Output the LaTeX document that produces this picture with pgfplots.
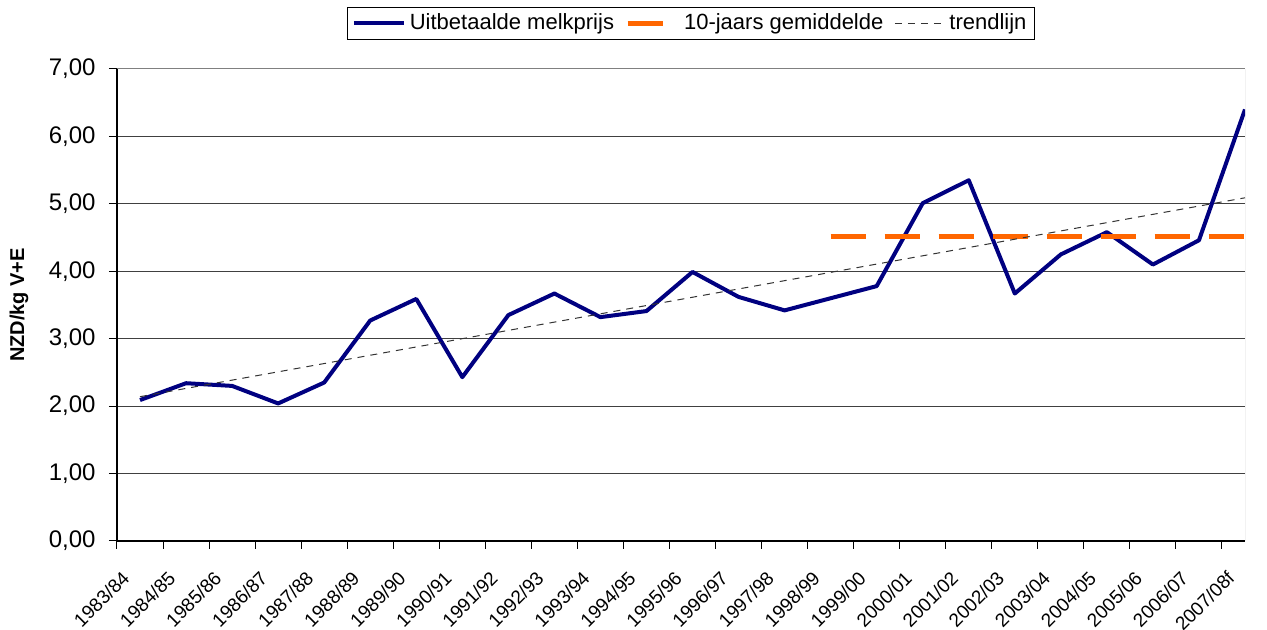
\documentclass[border=0pt]{standalone}
\usepackage{fontspec}
\setmainfont{Liberation Sans}
\usepackage{pgfplots}
\pgfplotsset{compat=1.18}
\usetikzlibrary{calc}
\definecolor{milk}{HTML}{000080}
\definecolor{avg}{HTML}{FF6600}
\begin{document}
\fontsize{12}{14.4}\selectfont
\begin{tikzpicture}
\begin{axis}[name=ax, scale only axis, width=564pt, height=236pt,
  xmin=-0.5, xmax=24, ymin=0, ymax=7,
  ytick={0,1,...,7},
  yticklabel style={/pgf/number format/fixed, /pgf/number format/fixed zerofill,
     /pgf/number format/precision=2, /pgf/number format/use comma,
     /pgf/number format/assume math mode=true, font=\fontsize{12}{14.4}\selectfont, xshift=-2.5pt},
  xtick={-0.5,0.5,1.5,2.5,3.5,4.5,5.5,6.5,7.5,8.5,9.5,10.5,11.5,12.5,13.5,14.5,15.5,16.5,17.5,18.5,19.5,20.5,21.5,22.5,23.5},
  xticklabels={1983/84,1984/85,1985/86,1986/87,1987/88,1988/89,1989/90,1990/91,1991/92,1992/93,1993/94,1994/95,1995/96,1996/97,1997/98,1998/99,1999/00,2000/01,2001/02,2002/03,2003/04,2004/05,2005/06,2006/07,2007/08f},
  xticklabel style={font=\fontsize{9.5}{11.4}\selectfont, xshift=4.5pt, yshift=-12.8pt, rotate=45, anchor=east, inner sep=0pt},
  tick align=outside, major tick length=4pt,
  tick style={black, line width=0.5pt},
  axis x line*=bottom, axis y line*=left,
  axis line style={black, line width=0.6pt, -},
  ymajorgrids, grid style={black!75, line width=0.5pt},
  ylabel={\textbf{NZD/kg V+E}},
  ylabel style={at={(axis description cs:-0.0869,0.5)}, anchor=center, rotate=0, font=\fontsize{10}{12}\selectfont},
  legend columns=3,
  legend style={at={(0.509,1.131)}, anchor=north, draw=black, line width=0.5pt,
     inner xsep=2pt, inner ysep=1pt, font=\fontsize{11}{13}\selectfont,
     nodes={inner xsep=2pt},
     /tikz/every even column/.append style={column sep=3.5pt}},
  legend image code/.code={\draw[#1] (0pt,0pt) -- (25pt,0pt);},
]
\addplot[milk, line width=2pt, line join=round] coordinates {
 (0,2.09) (1,2.34) (2,2.30) (3,2.04) (4,2.35) (5,3.27) (6,3.59) (7,2.43)
 (8,3.35) (9,3.67) (10,3.32) (11,3.41) (12,3.99) (13,3.62) (14,3.42)
 (15,3.60) (16,3.78) (17,5.01) (18,5.35) (19,3.67) (20,4.25) (21,4.58)
 (22,4.10) (23,4.46) (24,6.40)};
\addlegendentry{Uitbetaalde melkprijs}
\addplot[avg, line width=2.5pt, dash pattern=on 17.5pt off 9.5pt] coordinates {(15,4.52) (24,4.52)};
\addlegendentry{10-jaars gemiddelde}
\addplot[black!80, line width=0.5pt, dash pattern=on 3.5pt off 3pt] coordinates {(0,2.14) (24,5.09)};
\addlegendentry{trendlijn}
\draw[black!40, line width=0.5pt] (rel axis cs:1,0) -- (rel axis cs:1,1);
\draw[black!50, line width=0.5pt] (rel axis cs:0,1) -- (rel axis cs:1,1);
\end{axis}
\pgfresetboundingbox
\path ($(ax.south west)+(-58.5pt,-44.5pt)$) rectangle ($(ax.north east)+(11pt,34.5pt)$);
\end{tikzpicture}
\end{document}
